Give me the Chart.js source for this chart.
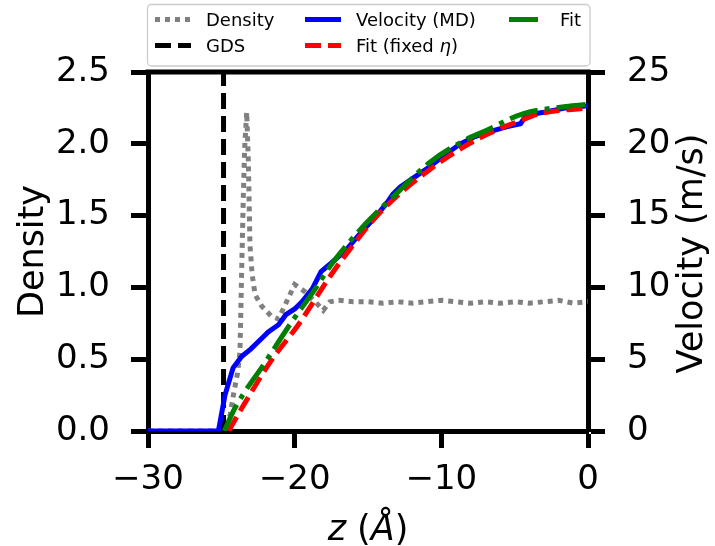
<!DOCTYPE html>
<html>
<head>
<meta charset="utf-8">
<title>Density / velocity profile</title>
<script src="https://cdn.jsdelivr.net/npm/chart.js@4"></script>
<style>
  html, body { margin: 0; padding: 0; background: #fff; }
</style>
</head>
<body>
<canvas id="profileChart" width="715" height="546"></canvas>
<script>
// ---- data ----
const zTicks = [-30, -20, -10, 0];
const densityTicks = [0, 0.5, 1.0, 1.5, 2.0, 2.5];
const velocityTicks = [0, 5, 10, 15, 20, 25];

// density (left axis)
const densityZ = [-30, -25, -24.75, -24.4, -24.18, -23.9, -23.73, -23.6, -23.5, -23.4, -23.27, -23.16, -23.1, -23.05,
  -22.9, -22.7, -22.25, -21.6, -21.1, -20.55, -20.0, -19.3, -18.6, -18.05, -17.6, -17, -16, -15, -14, -13,
  -12, -11, -10, -9, -8, -7, -6, -5, -4, -3, -2, -1, 0];
const density = [0, 0, 0.02, 0.11, 0.25, 0.40, 0.55, 1.18, 1.64, 1.99, 2.22, 1.88, 1.57, 1.30,
  1.09, 0.95, 0.87, 0.80, 0.78, 0.90, 1.02, 0.97, 0.90, 0.84, 0.90, 0.91, 0.90, 0.90, 0.89, 0.90,
  0.89, 0.90, 0.91, 0.90, 0.89, 0.90, 0.89, 0.90, 0.89, 0.90, 0.91, 0.89, 0.90];

// Gibbs dividing surface position
const gdsZ = -24.85;

// velocity from MD (right axis)
const mdZ = [-30, -25.2, -24.75, -24.2, -23.6, -23.0, -22.5, -21.8, -21.1, -20.6, -20.0, -19.5, -18.8, -18.2,
  -17.5, -16.5, -15.5, -14.5, -13.7, -13.3, -12.8, -11.8, -10.8, -9.8, -8.7, -7.7, -6.7, -5.5, -4.6, -4.2,
  -3.0, -1.5, 0];
const mdVel = [0, 0, 2.5, 4.4, 5.2, 5.7, 6.2, 6.9, 7.4, 8.1, 8.5, 9.0, 9.9, 11.1,
  11.7, 12.6, 13.8, 14.9, 15.9, 16.5, 17.0, 17.7, 18.4, 19.2, 20.0, 20.5, 20.85, 21.2, 21.4, 22.0,
  22.2, 22.5, 22.65];

// fit with fixed viscosity
const fixedZ = [-24.5, -23.6, -21.6, -19.75, -17.5, -16.5, -14.2, -10.8, -7.4, -4.4, -3.3, 0];
const fixedVel = [0, 1.6, 4.9, 7.4, 10.9, 12.3, 15.2, 18.2, 20.4, 21.7, 22.1, 22.5];

// free fit
const fitZ = [-24.8, -24.07, -22.0, -20.2, -18.6, -17.5, -15.1, -13.05, -10.8, -8.3, -7.1, -4.4, -1.5, 0];
const fitVel = [0, 1.6, 4.8, 7.6, 9.9, 11.6, 14.5, 16.55, 18.7, 20.3, 20.85, 22.1, 22.6, 22.75];

const pairs = (xs, ys) => xs.map((x, i) => ({ x: x, y: ys[i] }));

const FONT = 'DejaVu Sans';
const LW = 5;
const minus = v => (v < 0 ? '\u2212' + Math.abs(v) : String(v));

// legend columns, matplotlib style (ncol=3)
const legendColumns = [['Density', 'GDS'], ['Velocity (MD)', 'Fit (fixed η)'], ['Fit']];

const extras = {
  id: 'extras',
  afterDraw(chart) {
    const ctx = chart.ctx;
    const a = chart.chartArea;
    ctx.save();
    // top spine (others come from the scales)
    ctx.strokeStyle = '#000';
    ctx.lineWidth = 5;
    ctx.beginPath();
    ctx.moveTo(a.left - 2.5, a.top);
    ctx.lineTo(a.right + 2.5, a.top);
    ctx.stroke();

    // axis titles
    ctx.fillStyle = '#000';
    ctx.textAlign = 'center';
    ctx.textBaseline = 'middle';
    ctx.font = '35px "' + FONT + '"';
    const midY = (a.top + a.bottom) / 2;
    ctx.save();
    ctx.translate(34, midY);
    ctx.rotate(-Math.PI / 2);
    ctx.fillText('Density', 0, 0);
    ctx.restore();
    ctx.save();
    ctx.translate(693, midY + 2);
    ctx.rotate(-Math.PI / 2);
    ctx.fillText('Velocity (m/s)', 0, 0);
    ctx.restore();

    // x title with italic z and Å
    const parts = [['z', true], [' (', false], ['Å', true], [')', false]];
    ctx.textBaseline = 'alphabetic';
    ctx.textAlign = 'left';
    let total = 0;
    parts.forEach(p => {
      ctx.font = (p[1] ? 'italic ' : '') + '35px "' + FONT + '"';
      total += ctx.measureText(p[0]).width;
    });
    let tx = (a.left + a.right) / 2 - total / 2;
    parts.forEach(p => {
      ctx.font = (p[1] ? 'italic ' : '') + '35px "' + FONT + '"';
      ctx.fillText(p[0], tx, 540);
      tx += ctx.measureText(p[0]).width;
    });

    // legend box
    const bx = 147.5, by = 4.5, bw = 442.5, bh = 61.5, r = 4;
    ctx.beginPath();
    ctx.moveTo(bx + r, by);
    ctx.arcTo(bx + bw, by, bx + bw, by + bh, r);
    ctx.arcTo(bx + bw, by + bh, bx, by + bh, r);
    ctx.arcTo(bx, by + bh, bx, by, r);
    ctx.arcTo(bx, by, bx + bw, by, r);
    ctx.closePath();
    ctx.fillStyle = 'rgba(255,255,255,0.8)';
    ctx.fill();
    ctx.strokeStyle = '#cccccc';
    ctx.lineWidth = 1.3;
    ctx.stroke();

    const colX = [155, 305, 509];
    const rowY = [19.5, 45.5];
    const handleLen = 36;
    legendColumns.forEach((col, ci) => {
      col.forEach((label, ri) => {
        const ds = chart.data.datasets.find(d => d.label === label);
        const x0 = colX[ci], y0 = rowY[ri];
        ctx.save();
        ctx.strokeStyle = ds.borderColor;
        ctx.lineWidth = ds.borderWidth || LW;
        ctx.setLineDash(ds.borderDash || []);
        ctx.lineCap = 'butt';
        ctx.beginPath();
        ctx.moveTo(x0, y0);
        ctx.lineTo(x0 + handleLen, y0);
        ctx.stroke();
        ctx.restore();
        let lx = x0 + handleLen + 15;
        ctx.fillStyle = '#000';
        ctx.textBaseline = 'alphabetic';
        label.split(/(η)/).forEach(seg => {
          if (!seg) return;
          ctx.font = (seg === 'η' ? 'italic ' : '') + '18px "' + FONT + '"';
          ctx.fillText(seg, lx, y0 + 6.5);
          lx += ctx.measureText(seg).width;
        });
      });
    });
    ctx.restore();
  }
};

const axisGrid = { drawOnChartArea: false, drawTicks: true, tickLength: 17, tickWidth: 5, tickColor: '#000', color: '#000' };
const axisBorder = { display: true, width: 5, color: '#000' };
const tickFont = { family: FONT, size: 34 };

const chart = new Chart(document.getElementById('profileChart').getContext('2d'), {
  type: 'line',
  data: {
    datasets: [
      { label: 'Density', data: pairs(densityZ, density), yAxisID: 'y', borderColor: 'gray',
        borderDash: [5, 5], borderWidth: LW, order: 4 },
      { label: 'GDS', data: [{ x: gdsZ, y: densityTicks[0] }, { x: gdsZ, y: densityTicks[densityTicks.length - 1] }],
        yAxisID: 'y', borderColor: 'black', borderDash: [16, 7], borderWidth: LW, order: 3 },
      { label: 'Velocity (MD)', data: pairs(mdZ, mdVel), yAxisID: 'y2', borderColor: 'blue',
        borderWidth: LW, order: 2 },
      { label: 'Fit (fixed η)', data: pairs(fixedZ, fixedVel), yAxisID: 'y2', borderColor: 'red',
        borderDash: [16, 7], borderWidth: LW, cubicInterpolationMode: 'monotone', order: 1 },
      { label: 'Fit', data: pairs(fitZ, fitVel), yAxisID: 'y2', borderColor: 'green',
        borderDash: [29, 7, 5, 7], borderWidth: LW, cubicInterpolationMode: 'monotone', order: 0 }
    ]
  },
  options: {
    responsive: false,
    animation: false,
    layout: { padding: { top: 72, left: 0, right: 0, bottom: 0 } },
    elements: { point: { radius: 0 }, line: { tension: 0, borderCapStyle: 'butt', fill: false } },
    plugins: { legend: { display: false }, tooltip: { enabled: false } },
    scales: {
      x: {
        type: 'linear', position: 'bottom', min: zTicks[0], max: zTicks[zTicks.length - 1],
        afterBuildTicks: s => { s.ticks = zTicks.map(v => ({ value: v })); },
        afterFit: s => { s.height = 115; },
        ticks: { font: tickFont, color: '#000', padding: 12, maxRotation: 0, callback: v => minus(v) },
        grid: axisGrid, border: axisBorder
      },
      y: {
        type: 'linear', position: 'left', min: densityTicks[0], max: densityTicks[densityTicks.length - 1],
        afterBuildTicks: s => { s.ticks = densityTicks.map(v => ({ value: v })); },
        afterFit: s => { s.width = 148; },
        ticks: { font: tickFont, color: '#000', padding: 21, callback: v => v.toFixed(1) },
        grid: axisGrid, border: axisBorder
      },
      y2: {
        type: 'linear', position: 'right', min: velocityTicks[0], max: velocityTicks[velocityTicks.length - 1],
        afterBuildTicks: s => { s.ticks = velocityTicks.map(v => ({ value: v })); },
        afterFit: s => { s.width = 127; },
        ticks: { font: tickFont, color: '#000', padding: 22, callback: v => String(v) },
        grid: axisGrid, border: axisBorder
      }
    }
  },
  plugins: [extras]
});
</script>
</body>
</html>
